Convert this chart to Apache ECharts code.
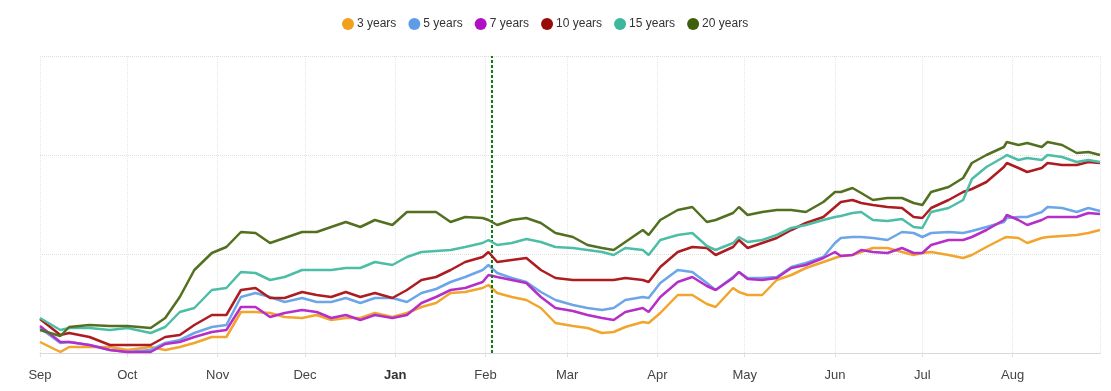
<!DOCTYPE html>
<html>
<head>
<meta charset="utf-8">
<script src="https://cdn.jsdelivr.net/npm/echarts@6/dist/echarts.min.js"></script>
<style>
html,body{margin:0;padding:0;background:#fff;}
#chart{width:1111px;height:391px;}
</style>
</head>
<body>
<div id="chart"></div>
<script>
const dates = [
'2022-09-01','2022-09-08','2022-09-11','2022-09-18','2022-09-25','2022-10-01','2022-10-09','2022-10-14','2022-10-19','2022-10-24',
'2022-10-30','2022-11-04','2022-11-09','2022-11-14','2022-11-19','2022-11-24','2022-11-30','2022-12-05','2022-12-10','2022-12-15',
'2022-12-20','2022-12-25','2022-12-31','2023-01-05','2023-01-10','2023-01-15','2023-01-20','2023-01-25','2023-01-31','2023-02-02',
'2023-02-05','2023-02-10','2023-02-15','2023-02-20','2023-02-25','2023-03-03','2023-03-08','2023-03-13','2023-03-17','2023-03-21',
'2023-03-27','2023-03-29','2023-04-02','2023-04-08','2023-04-13','2023-04-18','2023-04-21','2023-04-27','2023-04-29','2023-05-02',
'2023-05-07','2023-05-12','2023-05-17','2023-05-22','2023-05-28','2023-06-01','2023-06-03','2023-06-07','2023-06-10','2023-06-14',
'2023-06-19','2023-06-24','2023-06-28','2023-07-01','2023-07-04','2023-07-10','2023-07-15','2023-07-18','2023-07-23','2023-07-29',
'2023-07-30','2023-08-03','2023-08-06','2023-08-11','2023-08-13','2023-08-18','2023-08-23','2023-08-27','2023-08-31'
];
const names = ['3 years','5 years','7 years','10 years','15 years','20 years'];
const colors = ['#F2A52C','#6CA5E8','#B62EC8','#AC1C20','#4DBEA6','#52701F'];
const legendColors = ['#F2A01C','#5E9CE6','#B10FC4','#980B0B','#3DB89E','#3F5E0B'];

const y3 = [11,1,6,6,6,3,6,3,6,10, 16,16,41,41,40,36,35,38,33,35, 35,40,36,40,46,50,60,61,65,68,
  60,56,53,45,30,27,25,20,21,26, 31,30,40,58,58,49,46,65,61,58, 58,73,78,85,91,95,97,98,101,105,
  105,101,98,100,101,98,95,98,106,115, 116,115,110,115,116,117,118,120,123];
const y5 = [25,10,11,8,3,1,3,10,13,20, 26,28,56,60,56,51,55,51,51,55, 50,55,55,51,60,64,71,76,83,88,
  80,75,71,61,53,48,45,43,45,53, 56,55,70,83,81,70,63,76,81,75, 75,76,86,90,96,110,115,116,116,115,
  113,121,120,116,120,121,120,122,126,131, 135,136,136,141,146,145,141,145,142];
const y7 = [27,11,11,8,3,1,1,9,11,16, 21,23,46,46,36,40,43,41,35,38, 33,38,35,38,50,56,63,65,71,78,
  76,73,70,56,45,42,38,35,33,41, 45,41,56,71,76,67,63,75,81,74, 73,75,85,88,95,101,97,98,103,101,
  100,105,100,100,108,113,113,116,123,133, 138,133,128,133,136,136,136,140,139];
const y10 = [34,18,20,16,8,8,8,16,18,28, 38,38,63,65,55,55,61,58,56,61, 56,60,55,63,73,76,83,91,96,101,
  91,93,95,83,75,73,73,73,73,75, 73,71,86,101,106,105,98,106,113,105, 110,115,123,130,136,146,151,153,150,148,
  146,145,136,135,145,153,161,164,171,186, 190,185,181,185,190,188,188,191,190];
const y15 = [35,23,25,25,23,25,20,26,41,45, 63,65,81,80,73,76,83,83,83,85, 85,91,88,96,101,102,103,106,110,113,
  108,110,114,111,106,105,103,101,98,105, 103,98,113,118,120,107,103,110,116,111, 113,118,125,128,133,136,137,140,141,133,
  132,134,126,125,141,145,153,174,186,196, 198,193,195,193,198,196,191,193,191];
const y20 = [23,17,26,28,27,27,25,35,56,83, 100,106,121,120,110,115,121,121,126,131, 126,133,128,141,141,141,131,136,135,133,
  128,133,135,130,120,116,108,105,103,111, 123,118,133,143,146,131,133,140,146,138, 141,143,143,141,151,161,161,165,160,153,
  155,155,150,148,161,166,175,190,198,206, 211,208,210,206,211,208,200,201,198];
const seriesValues = [y3, y5, y7, y10, y15, y20];
const markerDate = '2023-02-03';
const axisStart = '2022-09-01';
const axisEnd = '2023-08-31';
const monthNames = ['Jan','Feb','Mar','Apr','May','Jun','Jul','Aug','Sep','Oct','Nov','Dec'];

const chart = echarts.init(document.getElementById('chart'), null, {renderer: 'canvas'});
const series = names.map((n, i) => ({
  name: n,
  type: 'line',
  showSymbol: false,
  symbol: 'circle',
  symbolSize: 6,
  color: legendColors[i],
  lineStyle: {color: colors[i], width: 2.5},
  data: dates.map((d, j) => [d, seriesValues[i][j]]),
  z: 2 + i,
  markLine: i === names.length - 1 ? {
    silent: true,
    symbol: ['none','none'],
    label: {show: false},
    lineStyle: {color: '#0B7F0B', type: [3, 2], width: 2},
    data: [{xAxis: markerDate}]
  } : undefined
}));

chart.setOption({
  animation: false,
  textStyle: {fontFamily: 'Liberation Sans, Arial, sans-serif'},
  legend: {
    top: 13,
    left: 337,
    icon: 'circle',
    itemWidth: 12,
    itemHeight: 12,
    itemGap: 12,
    textStyle: {fontSize: 12, color: '#333', padding: [0, 0, 0, -2]},
    data: names
  },
  grid: {left: 40, right: 11, top: 56, bottom: 38, containLabel: false},
  xAxis: {
    type: 'time',
    min: axisStart,
    max: axisEnd,
    splitNumber: 12,
    minInterval: 28 * 86400000,
    maxInterval: 31 * 86400000,
    axisLine: {show: true, lineStyle: {color: '#d8d8d8', width: 1}},
    axisTick: {show: true, length: 4, lineStyle: {color: '#e0e0e0'}},
    splitLine: {show: true, lineStyle: {color: '#e6e6e6', type: 'dotted', width: 1}},
    axisLabel: {
      margin: 16,
      fontSize: 13,
      color: '#444',
      hideOverlap: false,
      showMinLabel: true,
      formatter: function (value) {
        const d = new Date(value);
        const m = d.getMonth();
        if (m === 0) return '{b|' + monthNames[m] + '}';
        return monthNames[m];
      },
      rich: {b: {fontWeight: 'bold', fontSize: 13, color: '#333'}}
    }
  },
  yAxis: {
    type: 'value',
    min: 0,
    max: 297,
    interval: 99,
    axisLine: {show: false},
    axisTick: {show: false},
    axisLabel: {show: false},
    splitLine: {show: true, lineStyle: {color: '#dedede', type: 'dotted', width: 1}}
  },
  series: series
});
</script>
</body>
</html>
